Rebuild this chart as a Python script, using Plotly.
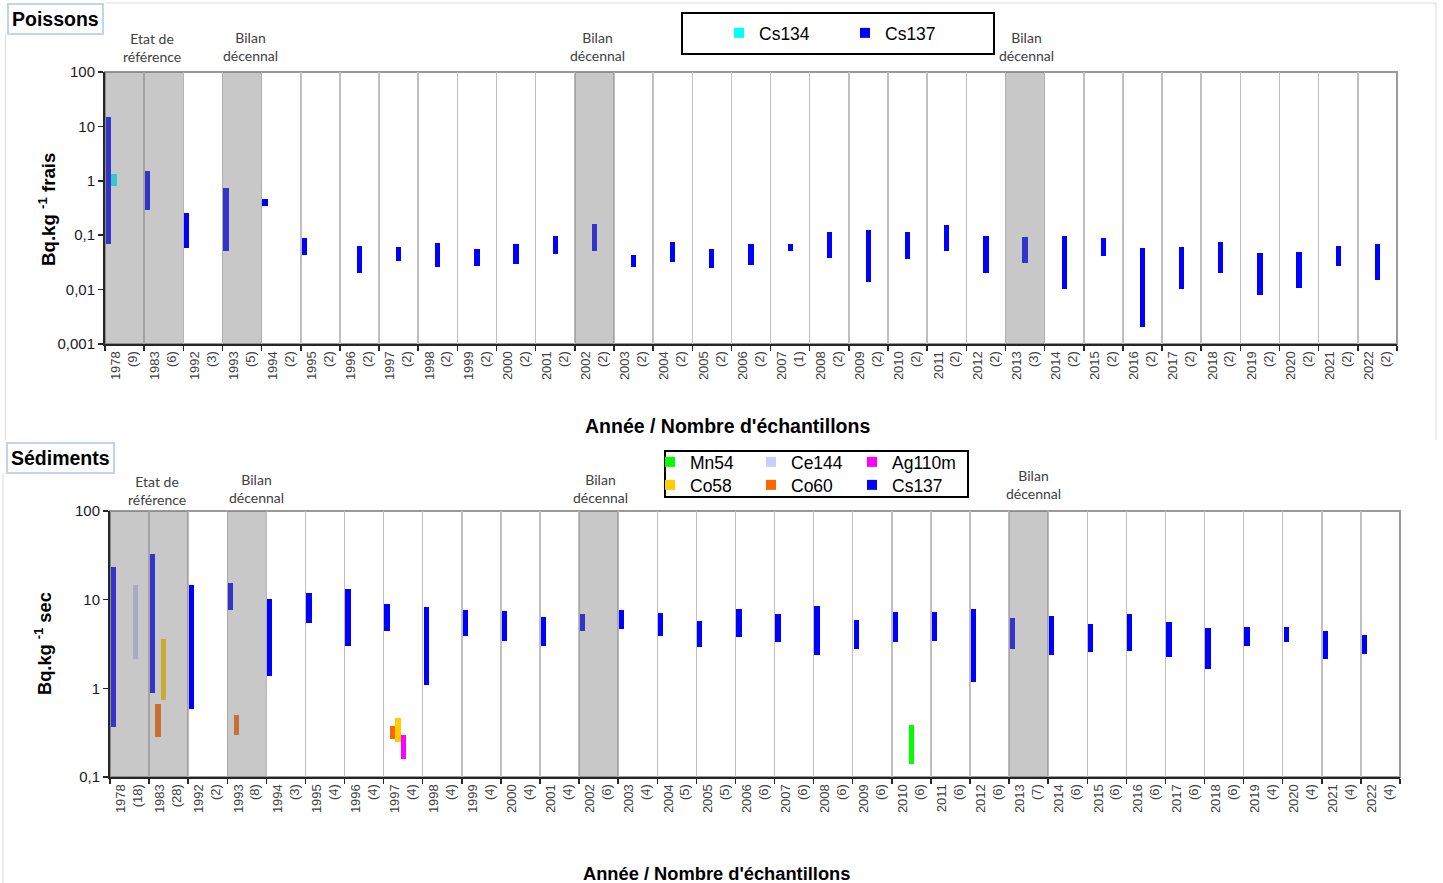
import plotly.graph_objects as go

# ---------------- data ----------------
years = ["1978", "1983", "1992", "1993", "1994", "1995", "1996", "1997", "1998", "1999",
         "2000", "2001", "2002", "2003", "2004", "2005", "2006", "2007", "2008", "2009",
         "2010", "2011", "2012", "2013", "2014", "2015", "2016", "2017", "2018", "2019",
         "2020", "2021", "2022"]

fish_counts = [9, 6, 3, 5, 2, 2, 2, 2, 2, 2, 2, 2, 2, 2, 2, 2, 2, 1, 2, 2, 2, 2, 2, 3,
               2, 2, 2, 2, 2, 2, 2, 2, 2]
sed_counts = [18, 28, 2, 8, 3, 4, 4, 4, 4, 4, 4, 4, 6, 4, 5, 5, 6, 6, 6, 6, 6, 6, 6, 7,
              6, 6, 6, 6, 6, 4, 4, 4, 4]

# Poissons (Bq/kg frais) : min / max
fish_cs137_max = [15, 1.53, 0.252, 0.726, 0.456, 0.0879, 0.0636, 0.0618, 0.0722, 0.0568,
                  0.0692, 0.0984, 0.1585, 0.0429, 0.0753, 0.0552, 0.0692, 0.0701, 0.1164, 0.1267,
                  0.1164, 0.152, 0.0984, 0.0917, 0.0984, 0.0879, 0.0593, 0.0618, 0.0753, 0.0467,
                  0.0486, 0.0645, 0.0692]
fish_cs137_min = [0.070, 0.286, 0.0593, 0.0507, 0.344, 0.0429, 0.0198, 0.0342, 0.0262, 0.0273,
                  0.0293, 0.0447, 0.0507, 0.0262, 0.0328, 0.0251, 0.0281, 0.0507, 0.0383, 0.0139,
                  0.0372, 0.0507, 0.0198, 0.0306, 0.0102, 0.0417, 0.00202, 0.0102, 0.0198, 0.00803,
                  0.0109, 0.0273, 0.0151]
fish_cs134_years = ["1978"]
fish_cs134_min = [0.80]
fish_cs134_max = [1.31]

# Sédiments (Bq/kg sec) : min / max
sed_cs137_max = [23.3, 32.4, 14.6, 15.3, 10.1, 11.8, 13.3, 8.84, 8.24, 7.63,
                 7.43, 6.30, 6.81, 7.63, 7.11, 5.73, 7.82, 6.81, 8.46, 5.88,
                 7.30, 7.30, 7.82, 6.14, 6.47, 5.34, 6.81, 5.58, 4.82, 4.94,
                 4.94, 4.38, 3.98]
sed_cs137_min = [0.367, 0.897, 0.591, 7.63, 1.37, 5.44, 3.04, 4.38, 1.10, 3.88,
                 3.44, 3.04, 4.38, 4.69, 3.88, 2.91, 3.78, 3.29, 2.39, 2.77,
                 3.29, 3.44, 1.19, 2.77, 2.39, 2.58, 2.65, 2.27, 1.66, 3.04,
                 3.29, 2.17, 2.45]
sed_co60_years = ["1983", "1993", "1997"]
sed_co60_min = [0.281, 0.301, 0.267]
sed_co60_max = [0.662, 0.497, 0.380]
sed_co58_years = ["1983", "1997"]
sed_co58_min = [0.741, 0.246]
sed_co58_max = [3.59, 0.464]
sed_ag110m_years = ["1997"]
sed_ag110m_min = [0.160]
sed_ag110m_max = [0.301]
sed_ce144_years = ["1978"]
sed_ce144_min = [2.17]
sed_ce144_max = [14.6]
sed_mn54_years = ["2010"]
sed_mn54_min = [0.139]
sed_mn54_max = [0.390]

# periods highlighted (first year, last year)
fish_periods = [("1978", "1983"), ("1993", "1993"), ("2002", "2002"), ("2013", "2013")]
sed_periods = [("1978", "1983"), ("1993", "1993"), ("2002", "2002"), ("2013", "2013")]

y_tickvals_fish = [0.001, 0.01, 0.1, 1, 10, 100]
y_ticktext_fish = ["0,001", "0,01", "0,1", "1", "10", "100"]
y_tickvals_sed = [0.1, 1, 10, 100]
y_ticktext_sed = ["0,1", "1", "10", "100"]

# ---------------- style ----------------
W, H = 1443, 883
BAR_W = 0.135
SLOT0 = -0.48
SLOT_STEP = 0.14
FISH_CENTER_FROM = years.index("1996")

COL = {"Cs134": "#00FFFF", "Cs137": "#0000FF", "Mn54": "#00FF00", "Ce144": "#CCCCFF",
       "Ag110m": "#FF00FF", "Co58": "#FFCC00", "Co60": "#FF6600"}
SED_SLOT = {"Cs137": 0, "Co60": 1, "Co58": 2, "Ag110m": 3, "Mn54": 3, "Ce144": 4}

# legend entry anchor (pixel position of the entry's text start, row centre)
FISH_LEG = {"Cs134": (759, 33), "Cs137": (885, 33)}
SED_LEG = {"Mn54": (690, 462), "Ce144": (791, 462), "Ag110m": (892, 462),
           "Co58": (690, 485), "Co60": (791, 485), "Cs137": (892, 485)}

ARIAL = "Liberation Sans, Arial, sans-serif"
CALIBRI = "Lato, Carlito, sans-serif"


def px(x):
    return x / W


def py(y):
    return 1 - y / H


fish_labels = [f"{y}<br>({n})" for y, n in zip(years, fish_counts)]
sed_labels = [f"{y}<br>({n})" for y, n in zip(years, sed_counts)]
fish_lab = dict(zip(years, fish_labels))
sed_lab = dict(zip(years, sed_labels))

fig = go.Figure()
legends = {}
leg_common = dict(orientation="h", bgcolor="rgba(0,0,0,0)", borderwidth=0,
                  font=dict(family="Liberation Sans, Arial, sans-serif", size=17.5, color="black"),
                  xanchor="left", yanchor="middle", itemclick=False, itemdoubleclick=False,
                  itemsizing="trace")


def add_bars(name, yrs, lo, hi, labmap, offsets, xa, ya, legpos):
    fig.add_trace(go.Bar(
        name=name,
        x=[labmap[y] for y in yrs],
        base=lo,
        y=[h - l for h, l in zip(hi, lo)],
        offset=offsets,
        width=[BAR_W] * len(yrs),
        marker=dict(color=COL[name], line=dict(width=0)),
        xaxis=xa, yaxis=ya, showlegend=False,
        hoverinfo="skip",
    ))
    # legend entry (small square key, as in the original), one legend box per entry
    lid = "legend" if not legends else f"legend{len(legends) + 1}"
    tx, ty = legpos
    legends[lid] = dict(leg_common, x=px(tx - 40), y=py(ty))
    fig.add_trace(go.Scatter(
        name=name, x=[None], y=[None], mode="markers",
        marker=dict(symbol="square", size=10, color=COL[name], line=dict(width=0)),
        xaxis=xa, yaxis=ya, legend=lid, showlegend=True, hoverinfo="skip",
    ))


# --- Poissons ---
fish_off = [SLOT0 if i < FISH_CENTER_FROM else -BAR_W / 2 for i in range(len(years))]
add_bars("Cs134", fish_cs134_years, fish_cs134_min, fish_cs134_max, fish_lab,
         [SLOT0 + SLOT_STEP] * len(fish_cs134_years), "x", "y", FISH_LEG["Cs134"])
add_bars("Cs137", years, fish_cs137_min, fish_cs137_max, fish_lab, fish_off, "x", "y",
         FISH_LEG["Cs137"])

# --- Sédiments ---
sed_series = [
    ("Mn54", sed_mn54_years, sed_mn54_min, sed_mn54_max),
    ("Ce144", sed_ce144_years, sed_ce144_min, sed_ce144_max),
    ("Ag110m", sed_ag110m_years, sed_ag110m_min, sed_ag110m_max),
    ("Co58", sed_co58_years, sed_co58_min, sed_co58_max),
    ("Co60", sed_co60_years, sed_co60_min, sed_co60_max),
    ("Cs137", years, sed_cs137_min, sed_cs137_max),
]
for name, yrs, lo, hi in sed_series:
    off = [SLOT0 + SED_SLOT[name] * SLOT_STEP] * len(yrs)
    add_bars(name, yrs, lo, hi, sed_lab, off, "x2", "y2", SED_LEG[name])

fig.update_layout(**legends)

# ---------------- axes ----------------
common_x = dict(type="category", tickson="boundaries", ticks="outside", ticklen=5,
                tickcolor="#262626", tickwidth=1.5, showline=True, linecolor="#262626",
                linewidth=2, showgrid=True, gridcolor="#BFBFBF", gridwidth=1.5,
                tickangle=-90, tickfont=dict(family=ARIAL, size=13, color="#404040"),
                range=[-0.5, len(years) - 0.5], fixedrange=True, zeroline=False,
                automargin=False)
common_y = dict(type="log", ticks="outside", ticklen=5, tickcolor="#262626", tickwidth=1.5,
                showline=True, linecolor="#262626", linewidth=2, showgrid=False,
                tickfont=dict(family=ARIAL, size=15, color="#1a1a1a"), zeroline=False,
                fixedrange=True, automargin=False)

fig.update_layout(
    xaxis=dict(common_x, domain=[px(105), px(1397)], anchor="y",
               categoryorder="array", categoryarray=fish_labels),
    yaxis=dict(common_y, domain=[py(344), py(72)], anchor="x", range=[-3, 2],
               tickmode="array", tickvals=y_tickvals_fish, ticktext=y_ticktext_fish),
    xaxis2=dict(common_x, domain=[px(110), px(1400)], anchor="y2",
                categoryorder="array", categoryarray=sed_labels),
    yaxis2=dict(common_y, domain=[py(777), py(511)], anchor="x2", range=[-1, 2],
                tickmode="array", tickvals=y_tickvals_sed, ticktext=y_ticktext_sed),
)

# ---------------- shapes ----------------
shapes = []
SHADE = "rgba(125,125,125,0.42)"
for (a, b), xr, yr in [(p, "x", "y") for p in fish_periods] + \
                      [(p, "x2", "y2") for p in sed_periods]:
    shapes.append(dict(type="rect", xref=xr, yref=yr + " domain",
                       x0=years.index(a) - 0.5, x1=years.index(b) + 0.5, y0=0, y1=1,
                       fillcolor=SHADE, line=dict(width=0), layer="above"))
# plot area frame (top / right in grey)
for xr, yr in [("x", "y"), ("x2", "y2")]:
    shapes.append(dict(type="rect", xref=xr + " domain", yref=yr + " domain",
                       x0=0, x1=1, y0=0, y1=1, line=dict(color="#9A9A9A", width=2),
                       layer="below"))
# panel frames (light)
for x0, y0, x1, y1 in [(106, 3, 1436, 3), (1436, 3, 1436, 440), (5.5, 34, 5.5, 440),
                       (3, 473, 3, 883)]:
    shapes.append(dict(type="line", xref="paper", yref="paper", x0=px(x0), y0=py(y0),
                       x1=px(x1), y1=py(y1), line=dict(color="#DADADA", width=1)))
# legend boxes
shapes.append(dict(type="rect", xref="paper", yref="paper", x0=px(682), x1=px(994),
                   y0=py(54), y1=py(13), line=dict(color="black", width=2)))
shapes.append(dict(type="rect", xref="paper", yref="paper", x0=px(665), x1=px(968),
                   y0=py(497), y1=py(451), line=dict(color="black", width=2)))
fig.update_layout(shapes=shapes)

# ---------------- annotations ----------------
ann = []


def text(x, y, t, size, family=ARIAL, bold=False, color="black", angle=0, **kw):
    ann.append(dict(x=px(x), y=py(y), xref="paper", yref="paper", text=f"<b>{t}</b>" if bold else t,
                    showarrow=False, textangle=angle, xanchor="center", yanchor="middle",
                    font=dict(family=family, size=size, color=color), **kw))


text(56, 19, "Poissons", 19.5, bold=True, bordercolor="#C3D3EF", borderwidth=2, borderpad=3,
     bgcolor="white")
text(60, 458, "Sédiments", 19.5, bold=True, bordercolor="#C3D3EF", borderwidth=2, borderpad=3,
     bgcolor="white")

for x, y, t in [(152, 48, "Etat de<br>référence"), (250, 46, "Bilan<br>décennal"),
                (597, 46, "Bilan<br>décennal"), (1026, 46, "Bilan<br>décennal"),
                (157, 490, "Etat de<br>référence"), (256, 488, "Bilan<br>décennal"),
                (600, 488, "Bilan<br>décennal"), (1033, 484, "Bilan<br>décennal")]:
    text(x, y, t, 14, family=CALIBRI, color="#404040")

text(47, 209, "Bq.kg <sup>-1</sup> frais", 18.7, bold=True, angle=-90)
text(43, 644, "Bq.kg <sup>-1</sup> sec", 18.3, bold=True, angle=-90)
text(728, 426, "Année / Nombre d'échantillons", 19.5, bold=True)
text(716, 873, "Année / Nombre d'échantillons", 18.3, bold=True)
fig.update_layout(annotations=ann)

fig.update_layout(
    width=W, height=H, autosize=False,
    margin=dict(l=0, r=0, t=0, b=0, pad=0, autoexpand=False),
    paper_bgcolor="white", plot_bgcolor="white",
    barmode="overlay", bargap=0,
    showlegend=True,
)

fig.write_html("out.html", config={"displayModeBar": False, "staticPlot": True},
               post_script="document.body.style.margin='0';")
